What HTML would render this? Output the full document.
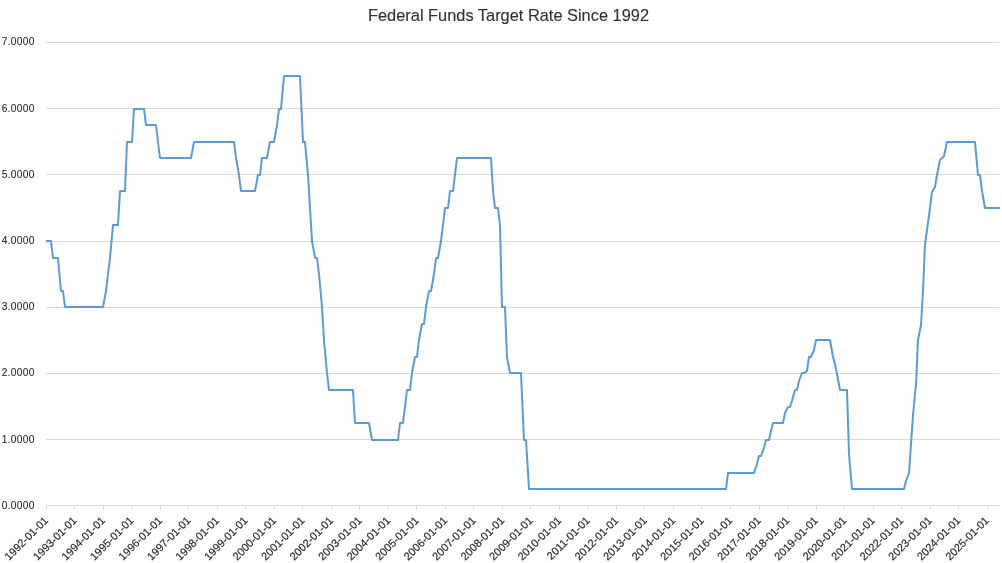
<!DOCTYPE html>
<html><head><meta charset="utf-8"><title>Federal Funds Target Rate Since 1992</title>
<style>
html,body{margin:0;padding:0;background:#fff;}
body{width:1002px;height:563px;overflow:hidden;font-family:"Liberation Sans",sans-serif;}
svg{display:block;will-change:transform;}
.g line{stroke:#d9d9d9;stroke-width:1;}
.t{font-family:"Liberation Sans",sans-serif;font-size:16.6px;fill:#333;stroke:#333;stroke-width:0.15px;}
.yl text,.xl text{font-family:"Liberation Sans",sans-serif;font-size:11px;fill:#2a2a2a;stroke:#2a2a2a;stroke-width:0.18px;}
.yl text{letter-spacing:0.3px;stroke-width:0.1px;}
</style></head><body>
<svg width="1002" height="563" viewBox="0 0 1002 563">
<rect width="1002" height="563" fill="#ffffff"/>
<text class="t" x="508.5" y="20.8" text-anchor="middle" textLength="281" lengthAdjust="spacingAndGlyphs">Federal Funds Target Rate Since 1992</text>
<g class="g"><line x1="46" x2="999.5" y1="439.5" y2="439.5"/><line x1="46" x2="999.5" y1="373.5" y2="373.5"/><line x1="46" x2="999.5" y1="307.5" y2="307.5"/><line x1="46" x2="999.5" y1="241.5" y2="241.5"/><line x1="46" x2="999.5" y1="174.5" y2="174.5"/><line x1="46" x2="999.5" y1="108.5" y2="108.5"/><line x1="46" x2="999.5" y1="42.5" y2="42.5"/><line x1="46" x2="999.5" y1="505.50" y2="505.50"/><line x1="46.5" x2="46.5" y1="505.50" y2="509.50"/><line x1="74.5" x2="74.5" y1="505.50" y2="509.50"/><line x1="103.5" x2="103.5" y1="505.50" y2="509.50"/><line x1="131.5" x2="131.5" y1="505.50" y2="509.50"/><line x1="160.5" x2="160.5" y1="505.50" y2="509.50"/><line x1="188.5" x2="188.5" y1="505.50" y2="509.50"/><line x1="217.5" x2="217.5" y1="505.50" y2="509.50"/><line x1="245.5" x2="245.5" y1="505.50" y2="509.50"/><line x1="274.5" x2="274.5" y1="505.50" y2="509.50"/><line x1="302.5" x2="302.5" y1="505.50" y2="509.50"/><line x1="331.5" x2="331.5" y1="505.50" y2="509.50"/><line x1="359.5" x2="359.5" y1="505.50" y2="509.50"/><line x1="388.5" x2="388.5" y1="505.50" y2="509.50"/><line x1="416.5" x2="416.5" y1="505.50" y2="509.50"/><line x1="445.5" x2="445.5" y1="505.50" y2="509.50"/><line x1="473.5" x2="473.5" y1="505.50" y2="509.50"/><line x1="502.5" x2="502.5" y1="505.50" y2="509.50"/><line x1="530.5" x2="530.5" y1="505.50" y2="509.50"/><line x1="559.5" x2="559.5" y1="505.50" y2="509.50"/><line x1="587.5" x2="587.5" y1="505.50" y2="509.50"/><line x1="616.5" x2="616.5" y1="505.50" y2="509.50"/><line x1="644.5" x2="644.5" y1="505.50" y2="509.50"/><line x1="673.5" x2="673.5" y1="505.50" y2="509.50"/><line x1="701.5" x2="701.5" y1="505.50" y2="509.50"/><line x1="730.5" x2="730.5" y1="505.50" y2="509.50"/><line x1="759.5" x2="759.5" y1="505.50" y2="509.50"/><line x1="787.5" x2="787.5" y1="505.50" y2="509.50"/><line x1="816.5" x2="816.5" y1="505.50" y2="509.50"/><line x1="844.5" x2="844.5" y1="505.50" y2="509.50"/><line x1="873.5" x2="873.5" y1="505.50" y2="509.50"/><line x1="901.5" x2="901.5" y1="505.50" y2="509.50"/><line x1="930.5" x2="930.5" y1="505.50" y2="509.50"/><line x1="958.5" x2="958.5" y1="505.50" y2="509.50"/><line x1="987.5" x2="987.5" y1="505.50" y2="509.50"/></g>
<g class="yl"><text transform="translate(1.7,509) scale(0.93,1)">0.0000</text><text transform="translate(1.7,443) scale(0.93,1)">1.0000</text><text transform="translate(1.7,376) scale(0.93,1)">2.0000</text><text transform="translate(1.7,310) scale(0.93,1)">3.0000</text><text transform="translate(1.7,244) scale(0.93,1)">4.0000</text><text transform="translate(1.7,178) scale(0.93,1)">5.0000</text><text transform="translate(1.7,112) scale(0.93,1)">6.0000</text><text transform="translate(1.7,45) scale(0.93,1)">7.0000</text></g>
<g class="xl"><text transform="translate(48.86,521.20) rotate(-45)" text-anchor="end">1992-01-01</text><text transform="translate(77.37,521.20) rotate(-45)" text-anchor="end">1993-01-01</text><text transform="translate(105.88,521.20) rotate(-45)" text-anchor="end">1994-01-01</text><text transform="translate(134.39,521.20) rotate(-45)" text-anchor="end">1995-01-01</text><text transform="translate(162.90,521.20) rotate(-45)" text-anchor="end">1996-01-01</text><text transform="translate(191.41,521.20) rotate(-45)" text-anchor="end">1997-01-01</text><text transform="translate(219.92,521.20) rotate(-45)" text-anchor="end">1998-01-01</text><text transform="translate(248.43,521.20) rotate(-45)" text-anchor="end">1999-01-01</text><text transform="translate(276.94,521.20) rotate(-45)" text-anchor="end">2000-01-01</text><text transform="translate(305.45,521.20) rotate(-45)" text-anchor="end">2001-01-01</text><text transform="translate(333.96,521.20) rotate(-45)" text-anchor="end">2002-01-01</text><text transform="translate(362.47,521.20) rotate(-45)" text-anchor="end">2003-01-01</text><text transform="translate(390.98,521.20) rotate(-45)" text-anchor="end">2004-01-01</text><text transform="translate(419.49,521.20) rotate(-45)" text-anchor="end">2005-01-01</text><text transform="translate(448.00,521.20) rotate(-45)" text-anchor="end">2006-01-01</text><text transform="translate(476.51,521.20) rotate(-45)" text-anchor="end">2007-01-01</text><text transform="translate(505.02,521.20) rotate(-45)" text-anchor="end">2008-01-01</text><text transform="translate(533.53,521.20) rotate(-45)" text-anchor="end">2009-01-01</text><text transform="translate(562.04,521.20) rotate(-45)" text-anchor="end">2010-01-01</text><text transform="translate(590.55,521.20) rotate(-45)" text-anchor="end">2011-01-01</text><text transform="translate(619.06,521.20) rotate(-45)" text-anchor="end">2012-01-01</text><text transform="translate(647.57,521.20) rotate(-45)" text-anchor="end">2013-01-01</text><text transform="translate(676.08,521.20) rotate(-45)" text-anchor="end">2014-01-01</text><text transform="translate(704.59,521.20) rotate(-45)" text-anchor="end">2015-01-01</text><text transform="translate(733.10,521.20) rotate(-45)" text-anchor="end">2016-01-01</text><text transform="translate(761.61,521.20) rotate(-45)" text-anchor="end">2017-01-01</text><text transform="translate(790.12,521.20) rotate(-45)" text-anchor="end">2018-01-01</text><text transform="translate(818.63,521.20) rotate(-45)" text-anchor="end">2019-01-01</text><text transform="translate(847.14,521.20) rotate(-45)" text-anchor="end">2020-01-01</text><text transform="translate(875.65,521.20) rotate(-45)" text-anchor="end">2021-01-01</text><text transform="translate(904.16,521.20) rotate(-45)" text-anchor="end">2022-01-01</text><text transform="translate(932.67,521.20) rotate(-45)" text-anchor="end">2023-01-01</text><text transform="translate(961.18,521.20) rotate(-45)" text-anchor="end">2024-01-01</text><text transform="translate(989.69,521.20) rotate(-45)" text-anchor="end">2025-01-01</text></g>
<polyline fill="none" stroke="#5b9bd5" stroke-width="2" stroke-linejoin="round" stroke-linecap="butt" points="46,241 49,241 51,241 53,258 56,258 58,258 61,291 63,291 65,307 68,307 70,307 72,307 75,307 77,307 80,307 82,307 84,307 87,307 89,307 91,307 94,307 96,307 99,307 101,307 103,307 106,291 108,274 110,258 113,225 115,225 118,225 120,191 122,191 125,191 127,142 129,142 132,142 134,109 137,109 139,109 141,109 144,109 146,125 148,125 151,125 153,125 156,125 158,142 160,158 163,158 165,158 167,158 170,158 172,158 175,158 177,158 179,158 182,158 184,158 186,158 189,158 191,158 194,142 196,142 198,142 201,142 203,142 205,142 208,142 210,142 213,142 215,142 217,142 220,142 222,142 224,142 227,142 229,142 232,142 234,142 236,158 239,175 241,191 243,191 246,191 248,191 251,191 253,191 255,191 258,175 260,175 262,158 265,158 267,158 270,142 272,142 274,142 277,125 279,109 281,109 284,76 286,76 289,76 291,76 293,76 296,76 298,76 300,76 303,142 305,142 308,175 310,208 312,241 315,258 317,258 319,274 322,307 324,340 327,373 329,390 331,390 334,390 336,390 338,390 341,390 343,390 346,390 348,390 350,390 353,390 355,423 357,423 360,423 362,423 365,423 367,423 369,423 372,440 374,440 377,440 379,440 381,440 384,440 386,440 388,440 391,440 393,440 396,440 398,440 400,423 403,423 405,407 407,390 410,390 412,373 415,357 417,357 419,340 422,324 424,324 426,307 429,291 431,291 434,274 436,258 438,258 441,241 443,225 445,208 448,208 450,191 453,191 455,175 457,158 460,158 462,158 464,158 467,158 469,158 472,158 474,158 476,158 479,158 481,158 483,158 486,158 488,158 491,158 493,191 495,208 498,208 500,225 502,307 505,307 507,357 510,373 512,373 514,373 517,373 519,373 521,373 524,440 526,440 529,489 531,489 533,489 536,489 538,489 540,489 543,489 545,489 548,489 550,489 552,489 555,489 557,489 559,489 562,489 564,489 567,489 569,489 571,489 574,489 576,489 578,489 581,489 583,489 586,489 588,489 590,489 593,489 595,489 597,489 600,489 602,489 605,489 607,489 609,489 612,489 614,489 616,489 619,489 621,489 624,489 626,489 628,489 631,489 633,489 635,489 638,489 640,489 643,489 645,489 647,489 650,489 652,489 654,489 657,489 659,489 662,489 664,489 666,489 669,489 671,489 673,489 676,489 678,489 681,489 683,489 685,489 688,489 690,489 692,489 695,489 697,489 700,489 702,489 704,489 707,489 709,489 711,489 714,489 716,489 719,489 721,489 723,489 726,489 728,473 731,473 733,473 735,473 738,473 740,473 742,473 745,473 747,473 750,473 752,473 754,473 757,464 759,456 761,456 764,448 766,440 769,440 771,431 773,423 776,423 778,423 780,423 783,423 785,413 788,407 790,407 792,401 795,390 797,390 799,381 802,373 804,373 807,371 809,357 811,357 814,350 816,340 818,340 821,340 823,340 826,340 828,340 830,340 833,357 835,364 837,374 840,390 842,390 845,390 847,390 849,454 852,489 854,489 856,489 859,489 861,489 864,489 866,489 868,489 871,489 873,489 875,489 878,489 880,489 883,489 885,489 887,489 890,489 892,489 894,489 897,489 899,489 902,489 904,489 906,481 909,473 911,444 913,415 916,384 918,340 921,325 923,291 925,244 928,223 930,208 932,192 935,187 937,175 940,160 942,158 944,156 947,142 949,142 951,142 954,142 956,142 959,142 961,142 963,142 966,142 968,142 970,142 973,142 975,142 978,175 980,175 982,191 985,208 987,208 989,208 992,208 994,208 997,208 1000,208"/>
</svg>
</body></html>
